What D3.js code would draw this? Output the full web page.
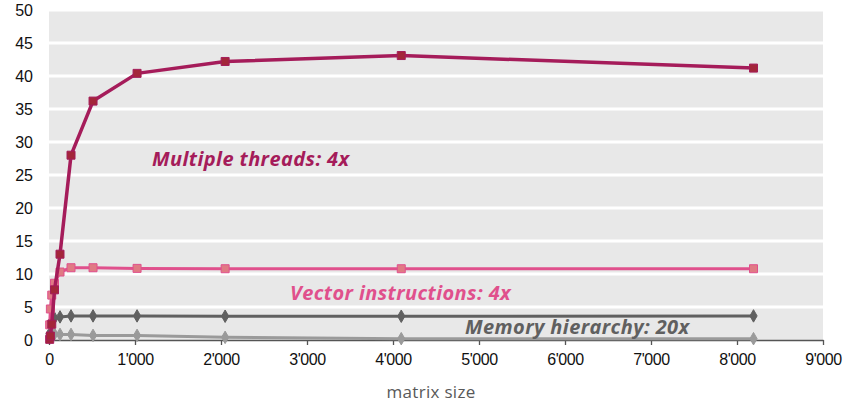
<!DOCTYPE html>
<html>
<head>
<meta charset="utf-8">
<script src="https://cdn.jsdelivr.net/npm/d3@7"></script>
<style>
  body { margin: 0; background: #fff; }
  svg { display: block; }
</style>
</head>
<body>
<div id="chart"></div>
<script>
// Data
let sizes = [8, 16, 32, 64, 128, 256, 512, 1024, 2048, 4096, 8192];
let threads = [0.1, 0.6, 2.4, 7.6, 13.0, 28.0, 36.2, 40.4, 42.2, 43.1, 41.2];
let vector = [2.3, 4.7, 6.8, 8.6, 10.3, 10.95, 10.95, 10.85, 10.8, 10.8, 10.8];
let memoryHigh = [1.0, 2.2, 2.9, 3.3, 3.5, 3.65, 3.65, 3.65, 3.6, 3.6, 3.65];
let memoryLow = [0.9, 0.9, 0.9, 0.9, 0.85, 0.85, 0.7, 0.7, 0.4, 0.2, 0.2];
let xTicks = [0, 1000, 2000, 3000, 4000, 5000, 6000, 7000, 8000, 9000];
let yTicks = [0, 5, 10, 15, 20, 25, 30, 35, 40, 45, 50];

let width = 850, height = 409;
let plotLeft = 49, plotRight = 823, plotTop = 10, plotBottom = 340;

let x = d3.scaleLinear().domain([0, 9000]).range([plotLeft, plotRight]);
let y = d3.scaleLinear().domain([0, 50]).range([plotBottom, plotTop]);

let svg = d3.select("#chart").append("svg")
  .attr("width", width)
  .attr("height", height);

// panel background
svg.append("rect")
  .attr("x", plotLeft).attr("y", plotTop)
  .attr("width", plotRight - plotLeft).attr("height", plotBottom - plotTop)
  .attr("fill", "#e8e8e8");

// gridlines
svg.append("g").selectAll("line")
  .data(yTicks.filter(d => d > 0))
  .enter().append("line")
  .attr("x1", plotLeft).attr("x2", plotRight)
  .attr("y1", d => y(d)).attr("y2", d => y(d))
  .attr("stroke", "#fff").attr("stroke-width", 3);

// y labels
svg.append("g").selectAll("text")
  .data(yTicks)
  .enter().append("text")
  .attr("x", 33)
  .attr("y", d => y(d) + 6)
  .attr("text-anchor", "end")
  .attr("font-family", "Liberation Sans, Arial, sans-serif")
  .attr("font-size", 16)
  .attr("fill", "#111")
  .text(d => d);

// x axis
let fmt = d => d3.format(",")(d).replace(/,/g, "'");
let xAxis = svg.append("g")
  .attr("transform", "translate(0," + plotBottom + ")")
  .call(d3.axisBottom(x).tickValues(xTicks).tickFormat(fmt).tickSize(5).tickSizeOuter(0));
xAxis.select(".domain").attr("stroke", "#555").attr("stroke-width", 1.3);
xAxis.selectAll(".tick line").attr("stroke", "#555").attr("stroke-width", 1.3);
xAxis.selectAll("text")
  .attr("font-family", "Liberation Sans, Arial, sans-serif")
  .attr("font-size", 16)
  .attr("fill", "#111")
  .attr("letter-spacing", "-0.4px")
  .attr("dy", "1.05em");

svg.append("text")
  .attr("x", (plotLeft + plotRight) / 2 - 5)
  .attr("y", 398)
  .attr("text-anchor", "middle")
  .attr("font-family", "Open Sans, sans-serif")
  .attr("font-size", 17)
  .attr("fill", "#595959")
  .attr("letter-spacing", "0.3px")
  .text("matrix size");

let line = d3.line().x(d => x(d[0])).y(d => y(d[1]));

function drawSeries(values, lineColor, markColor, shape, lw, ms) {
  let pts = sizes.map((s, i) => [s, values[i]]);
  svg.append("path")
    .datum(pts)
    .attr("d", line)
    .attr("fill", "none")
    .attr("stroke", lineColor)
    .attr("stroke-width", lw)
    .attr("stroke-linejoin", "round");
  let sym = d3.symbol().type(shape === "square" ? d3.symbolSquare : d3.symbolDiamond).size(ms);
  svg.append("g").selectAll("path")
    .data(pts)
    .enter().append("path")
    .attr("transform", d => "translate(" + x(d[0]) + "," + y(d[1]) + ")")
    .attr("d", sym)
    .attr("fill", markColor)
    .attr("stroke", lineColor)
    .attr("stroke-width", 1);
}

drawSeries(memoryLow, "#9a9a9a", "#9a9a9a", "diamond", 3, 45);
drawSeries(memoryHigh, "#606060", "#606060", "diamond", 3, 45);
drawSeries(vector, "#e0508c", "#e07a84", "square", 3, 64);
drawSeries(threads, "#a51c5a", "#a3263a", "square", 3.5, 64);

// annotations
function note(txt, tx, ty, color) {
  svg.append("text")
    .attr("x", tx).attr("y", ty)
    .attr("font-family", "Open Sans, sans-serif")
    .attr("font-size", 20)
    .attr("font-weight", "bold")
    .attr("font-style", "italic")
    .attr("letter-spacing", "0.4px")
    .attr("fill", color)
    .text(txt);
}
note("Multiple threads: 4x", 152, 166, "#a51c5a");
note("Vector instructions: 4x", 290, 300, "#e0508c");
note("Memory hierarchy: 20x", 465, 334, "#606060");
</script>
</body>
</html>
